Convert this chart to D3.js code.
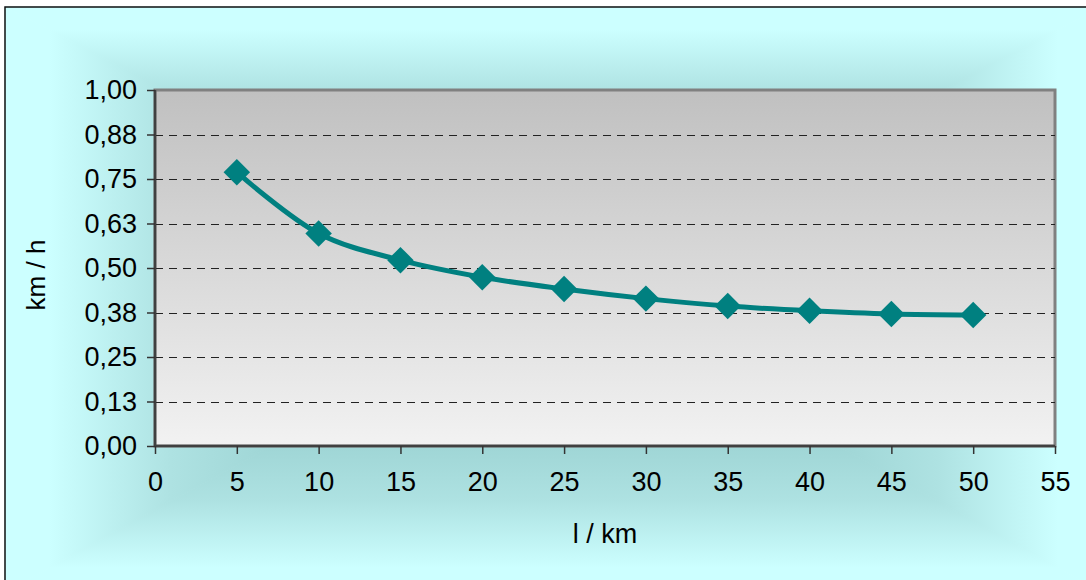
<!DOCTYPE html>
<html><head><meta charset="utf-8">
<script src="https://cdn.jsdelivr.net/npm/d3@7"></script>
<style>html,body{margin:0;padding:0;background:#fff;}svg{display:block;font-family:"Liberation Sans",Arial,sans-serif;}</style>
</head><body>
<svg id="chart" width="1086" height="580"></svg>
<script>
const xValues = [5, 10, 15, 20, 25, 30, 35, 40, 45, 50];
const yValues = [0.769, 0.597, 0.522, 0.474, 0.441, 0.414, 0.393, 0.380, 0.371, 0.368];
const xTicks = [0, 5, 10, 15, 20, 25, 30, 35, 40, 45, 50, 55];
const yTicks = [0, 0.125, 0.25, 0.375, 0.5, 0.625, 0.75, 0.875, 1.0];
const yTickLabels = ["0,00", "0,13", "0,25", "0,38", "0,50", "0,63", "0,75", "0,88", "1,00"];
const xTitle = "l / km";
const yTitle = "km / h";

const svg = d3.select("#chart");
const W = 1086, H = 580;
const plot = {left: 155, right: 1055, top: 90, bottom: 446};

const defs = svg.append("defs");

// Outer area: rectangular "from center" gradient built from 4 triangles
const bg = {x0: 5, y0: 7, x1: 1102, y1: 592};
const cx = 556, cy = 290;
const stops = [
  {o: 0, c: "#86c2c2"},
  {o: 0.4, c: "#96cece"},
  {o: 0.7, c: "#aee2e2"},
  {o: 0.92, c: "#ccffff"},
  {o: 1, c: "#ccffff"}
];
function addGrad(id, x1, y1, x2, y2) {
  const g = defs.append("linearGradient").attr("id", id)
    .attr("gradientUnits", "userSpaceOnUse")
    .attr("x1", x1).attr("y1", y1).attr("x2", x2).attr("y2", y2);
  stops.forEach(s => g.append("stop").attr("offset", s.o).attr("stop-color", s.c));
}
addGrad("gTop", cx, cy, cx, bg.y0);
addGrad("gBot", cx, cy, cx, bg.y1);
addGrad("gLeft", cx, cy, bg.x0, cy);
addGrad("gRight", cx, cy, bg.x1, cy);
svg.append("rect").attr("x", 0).attr("y", 0).attr("width", W).attr("height", H).attr("fill", "#fff");
const tris = [
  {id: "gTop", pts: [[bg.x0, bg.y0], [bg.x1, bg.y0], [cx, cy]]},
  {id: "gBot", pts: [[bg.x0, bg.y1], [bg.x1, bg.y1], [cx, cy]]},
  {id: "gLeft", pts: [[bg.x0, bg.y0], [bg.x0, bg.y1], [cx, cy]]},
  {id: "gRight", pts: [[bg.x1, bg.y0], [bg.x1, bg.y1], [cx, cy]]}
];
tris.forEach(t => svg.append("polygon")
  .attr("points", t.pts.map(p => p.join(",")).join(" "))
  .attr("fill", `url(#${t.id})`).attr("stroke", `url(#${t.id})`).attr("stroke-width", 1));
// outer border (top & left visible)
svg.append("path").attr("d", `M${bg.x0},${bg.y1} L${bg.x0},${bg.y0} L${bg.x1},${bg.y0}`)
  .attr("fill", "none").attr("stroke", "#111").attr("stroke-width", 1.5);

// scales
const x = d3.scaleLinear().domain([0, 55]).range([plot.left, plot.right]);
const y = d3.scaleLinear().domain([0, 1]).range([plot.bottom, plot.top]);

// plot background gradient
const pg = defs.append("linearGradient").attr("id", "plotBg").attr("x1", 0).attr("y1", 0).attr("x2", 0).attr("y2", 1);
pg.append("stop").attr("offset", 0).attr("stop-color", "#c0c0c0");
pg.append("stop").attr("offset", 1).attr("stop-color", "#f2f2f2");
svg.append("rect").attr("x", plot.left).attr("y", plot.top)
  .attr("width", plot.right - plot.left).attr("height", plot.bottom - plot.top)
  .attr("fill", "url(#plotBg)").attr("stroke", "#808080").attr("stroke-width", 3);

// gridlines
svg.append("g").selectAll("line").data(yTicks.filter(v => v > 0 && v < 1)).join("line")
  .attr("x1", plot.left).attr("x2", plot.right)
  .attr("y1", d => Math.round(y(d)) + 0.5).attr("y2", d => Math.round(y(d)) + 0.5)
  .attr("stroke", "#222").attr("stroke-width", 1).attr("stroke-dasharray", "8,6");

// axes
const yAxis = d3.axisLeft(y).tickValues(yTicks).tickFormat((d, i) => yTickLabels[i]).tickSize(8).tickPadding(10);
const gy = svg.append("g").attr("transform", `translate(${plot.left},0)`).call(yAxis);
const xAxis = d3.axisBottom(x).tickValues(xTicks).tickSize(8).tickPadding(18);
const gx = svg.append("g").attr("transform", `translate(0,${plot.bottom})`).call(xAxis);
[gy, gx].forEach(g => {
  g.attr("font-size", 27).attr("font-family", "Liberation Sans, Arial, sans-serif");
  g.select(".domain").attr("stroke", "#404040").attr("stroke-width", 2.5);
  g.selectAll(".tick line").attr("stroke", "#333").attr("stroke-width", 1.5);
  g.selectAll(".tick text").attr("fill", "#000").style("font-size", "27px");
});
gy.select(".domain").attr("d", `M0,${plot.top}V${plot.bottom}`);
gx.select(".domain").attr("d", `M${plot.left},0H${plot.right}`);

// axis titles
svg.append("text").attr("x", (plot.left + plot.right) / 2).attr("y", 543)
  .attr("text-anchor", "middle").style("font-size", "27px").text(xTitle);
svg.append("text").attr("transform", `translate(45,275) rotate(-90)`)
  .attr("text-anchor", "middle").style("font-size", "26px").text(yTitle);

// line
const data = xValues.map((v, i) => [v, yValues[i]]);
svg.append("path").datum(data)
  .attr("d", d3.line().x(d => x(d[0])).y(d => y(d[1])).curve(d3.curveCatmullRom.alpha(0.5)))
  .attr("fill", "none").attr("stroke", "#008080").attr("stroke-width", 5).attr("stroke-linejoin", "round");

// diamond markers
const sym = d3.symbol().type(d3.symbolSquare).size(350);
svg.append("g").selectAll("path").data(data).join("path")
  .attr("d", sym)
  .attr("transform", d => `translate(${x(d[0])},${y(d[1])}) rotate(45)`)
  .attr("fill", "#008080");
</script>
</body></html>
